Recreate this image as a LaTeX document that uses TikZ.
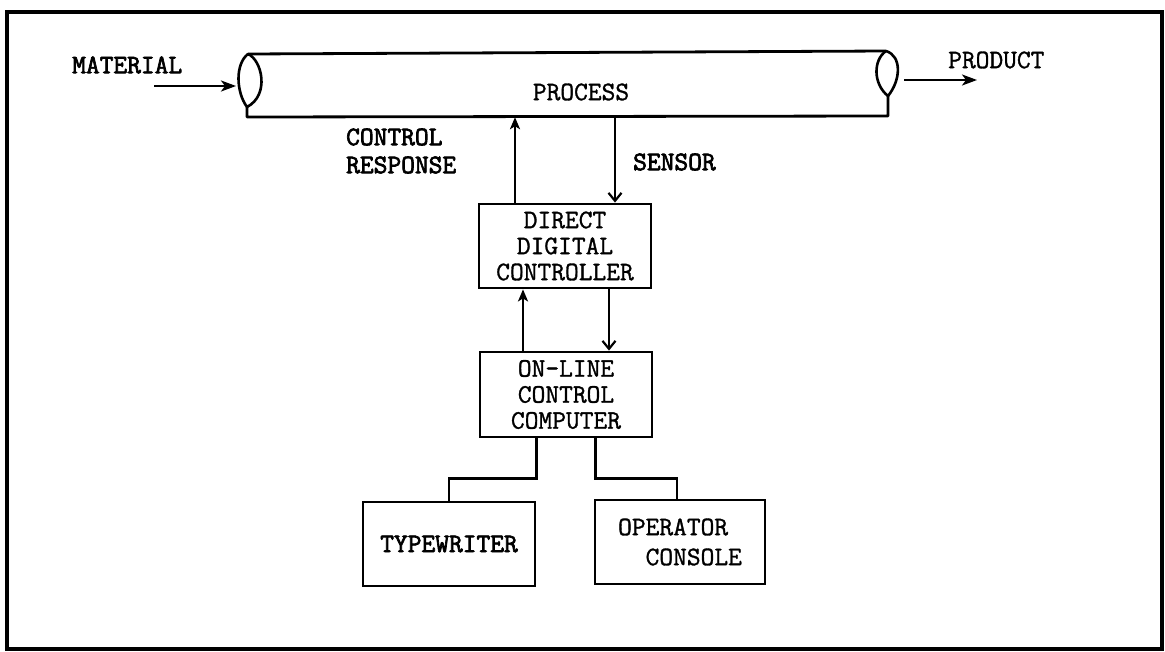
\documentclass[tikz,border=0pt]{standalone}
\usepackage{fontspec}
\setmonofont{Latin Modern Mono}[FakeBold=1.2]
\newfontfamily\heavytt{Latin Modern Mono}[FakeBold=2.6]
\usetikzlibrary{arrows.meta,calc}
\newcommand\diagfont{\ttfamily\fontsize{26.7}{26}\selectfont}
\newcommand\diagheavy{\heavytt\fontsize{26.7}{28}\selectfont}
\begin{document}
\begin{tikzpicture}[x=1pt,y=-1pt,
  lbl/.style={font=\diagfont, inner sep=0pt},
  hlbl/.style={font=\diagheavy, inner sep=0pt},
  box/.style={draw, line width=2.8pt, inner sep=0pt, font=\diagfont, align=center},
  wire/.style={line width=2.4pt},
  flowar/.style={wire, -{Stealth[length=15pt,width=11pt,inset=4pt]}},
  upar/.style={wire, -{Stealth[length=12pt,width=10pt,inset=3pt]}},
  dnar/.style={wire, -{Straight Barb[length=8pt,width=13pt,line width=2.2pt]}},
]
\useasboundingbox (0,0) rectangle (1165,651);
\fill[white] (0,0) rectangle (1165,651);

% outer frame
\draw[line width=3.6pt] (7,12) rectangle (1162,649);

% process pipe
\node[minimum width=641pt, minimum height=64pt, inner sep=0pt] (pipe) at (567.5,85) {};
\draw[line width=2.8pt, line join=round, line cap=round]
  (248,54) -- (886,51)
  (247,107) -- (247,117) -- (888,116) -- (888,96);
% left end of the pipe
\draw[line width=2.6pt]
  (248,54) .. controls (235,64) and (236,92) .. (247,107)
  (248,54) .. controls (262,60) and (270,95) .. (247,107);
% right end of the pipe
\draw[line width=2.6pt]
  (886,51) .. controls (873,60) and (873,84) .. (888,96)
  (886,51) .. controls (902,56) and (901,80) .. (888,96);
\node[lbl] (process) at (581,92) {PROCESS};

% material in, product out
\node[hlbl, anchor=west] (material) at (72,65) {MATERIAL};
\node[lbl, anchor=west] (product) at (948,60) {PRODUCT};
\coordinate (matin) at (154,86);
\coordinate (matend) at (236,86);
\coordinate (prodin) at (904,80);
\coordinate (prodend) at (977,80);
\draw[flowar] (matin) -- (matend);
\draw[flowar] (prodin) -- (prodend);

% control blocks
\node[box, minimum width=172pt, minimum height=84pt] (ddc) at (565,246)
  {DIRECT\\DIGITAL\\CONTROLLER};
\node[box, minimum width=172pt, minimum height=85pt] (olcc) at (566,394.5)
  {ON-LINE\\CONTROL\\COMPUTER};
\node[box, font=\diagheavy, minimum width=172pt, minimum height=84pt] (typew) at (449,544)
  {TYPEWRITER};
\node[box, align=left, minimum width=170pt, minimum height=84pt, font=\ttfamily\fontsize{26.7}{30}\selectfont] (console) at (680,542)
  {OPERATOR\\\phantom{OP}CONSOLE};

% signal labels
\node[hlbl, anchor=west, align=left] (ctrlresp) at (346,151) {CONTROL\\RESPONSE};
\node[hlbl, anchor=west] (sensor) at (633,162) {SENSOR};

% process <-> direct digital controller
\draw[upar] ([xshift=-50pt]ddc.north) -- ([xshift=-50pt]ddc.north |- pipe.south);
\draw[dnar] ([xshift=50pt]ddc.north |- pipe.south) -- ([xshift=50pt]ddc.north);

% controller <-> computer
\draw[upar] ([xshift=-43pt]olcc.north) -- ([xshift=-43pt]olcc.north |- ddc.south);
\draw[dnar] ([xshift=43pt]olcc.north |- ddc.south) -- ([xshift=43pt]olcc.north);

% computer to peripherals
\draw[wire] (typew.east |- olcc.south) -- ++(0,40) -| (typew.north);
\draw[wire] ([xshift=2pt]console.west |- olcc.south) -- ++(0,40) -| ([xshift=-3pt]console.north);
\end{tikzpicture}
\end{document}
